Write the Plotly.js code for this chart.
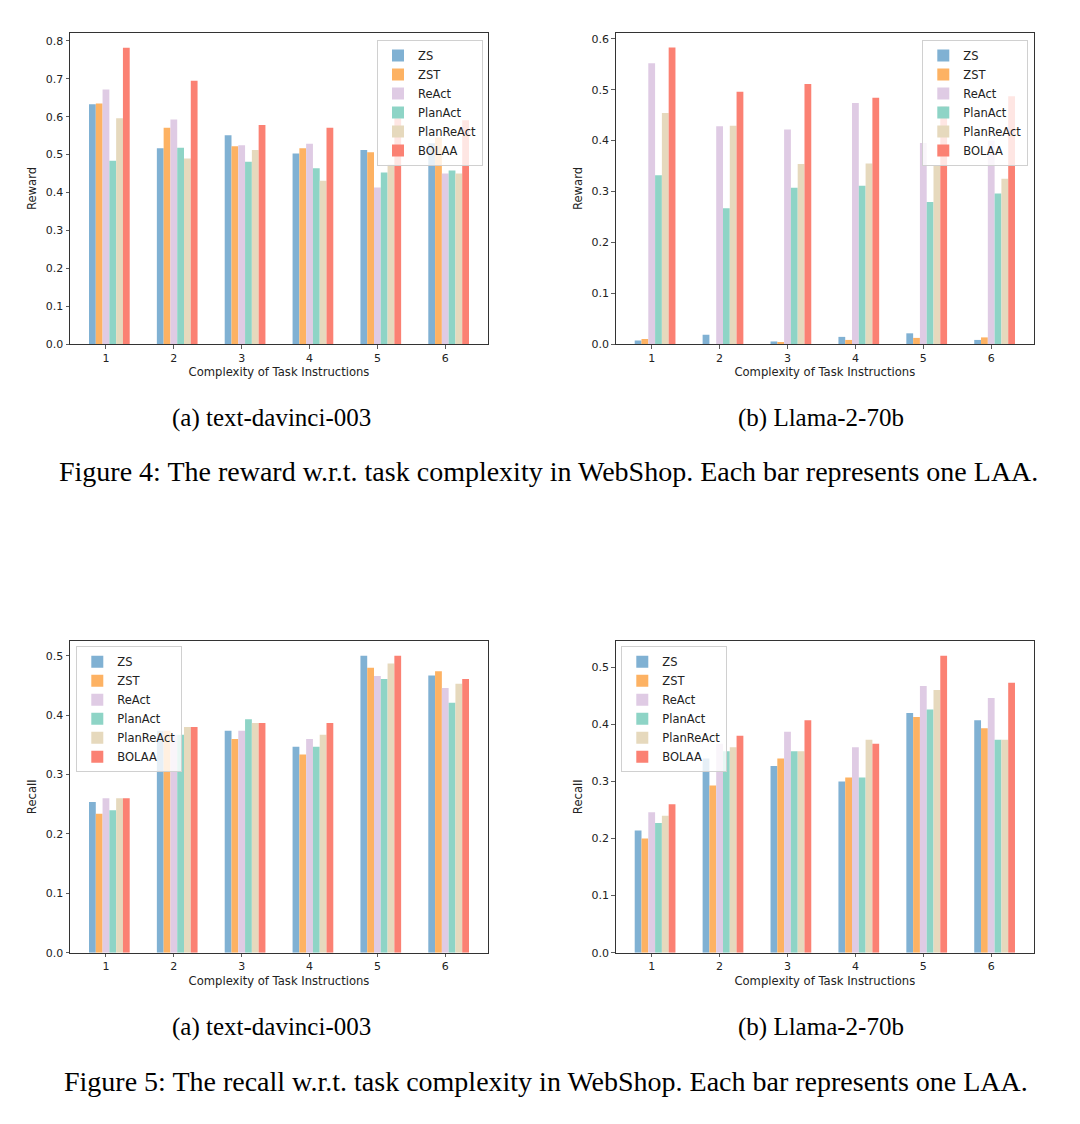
<!DOCTYPE html>
<html>
<head>
<meta charset="utf-8">
<script src="https://cdn.plot.ly/plotly-3.0.1.min.js"></script>
<style>
  html, body { margin: 0; padding: 0; background: #ffffff; }
  #chart { width: 1080px; height: 1124px; }
</style>
</head>
<body>
<div id="chart"></div>
<script>
// ---------- data ----------
const complexity = [1, 2, 3, 4, 5, 6];
const agents = ['ZS', 'ZST', 'ReAct', 'PlanAct', 'PlanReAct', 'BOLAA'];
const agentColors = ['#80b1d3', '#fdb263', '#dfcbe4', '#8ed4c6', '#e6d9bd', '#fb8173'];

// Figure 4 (a): reward, text-davinci-003
const rewardDavinciZS        = [0.633, 0.517, 0.551, 0.503, 0.512, 0.530];
const rewardDavinciZST       = [0.635, 0.571, 0.522, 0.517, 0.506, 0.545];
const rewardDavinciReAct     = [0.672, 0.593, 0.525, 0.529, 0.413, 0.450];
const rewardDavinciPlanAct   = [0.484, 0.518, 0.481, 0.464, 0.453, 0.458];
const rewardDavinciPlanReAct = [0.596, 0.490, 0.512, 0.431, 0.474, 0.450];
const rewardDavinciBOLAA     = [0.782, 0.695, 0.578, 0.571, 0.596, 0.591];

// Figure 4 (b): reward, Llama-2-70b
const rewardLlamaZS        = [0.007, 0.018, 0.005, 0.014, 0.021, 0.008];
const rewardLlamaZST       = [0.010, 0.000, 0.004, 0.008, 0.012, 0.013];
const rewardLlamaReAct     = [0.552, 0.428, 0.422, 0.474, 0.395, 0.400];
const rewardLlamaPlanAct   = [0.332, 0.267, 0.307, 0.311, 0.279, 0.296];
const rewardLlamaPlanReAct = [0.454, 0.429, 0.354, 0.355, 0.350, 0.325];
const rewardLlamaBOLAA     = [0.583, 0.496, 0.511, 0.484, 0.467, 0.487];

// Figure 5 (a): recall, text-davinci-003
const recallDavinciZS        = [0.254, 0.374, 0.374, 0.347, 0.500, 0.467];
const recallDavinciZST       = [0.234, 0.374, 0.360, 0.334, 0.480, 0.474];
const recallDavinciReAct     = [0.260, 0.367, 0.374, 0.360, 0.466, 0.446];
const recallDavinciPlanAct   = [0.240, 0.367, 0.393, 0.347, 0.461, 0.421];
const recallDavinciPlanReAct = [0.260, 0.380, 0.387, 0.367, 0.487, 0.453];
const recallDavinciBOLAA     = [0.260, 0.380, 0.387, 0.387, 0.500, 0.461];

// Figure 5 (b): recall, Llama-2-70b
const recallLlamaZS        = [0.214, 0.340, 0.327, 0.300, 0.420, 0.407];
const recallLlamaZST       = [0.200, 0.293, 0.340, 0.307, 0.413, 0.393];
const recallLlamaReAct     = [0.246, 0.366, 0.387, 0.360, 0.467, 0.446];
const recallLlamaPlanAct   = [0.227, 0.353, 0.353, 0.307, 0.426, 0.373];
const recallLlamaPlanReAct = [0.240, 0.360, 0.353, 0.373, 0.460, 0.373];
const recallLlamaBOLAA     = [0.260, 0.380, 0.407, 0.366, 0.520, 0.473];

const xTickLabels = ['1', '2', '3', '4', '5', '6'];
const xTitle = 'Complexity of Task Instructions';
const subCaptions = ['(a) text-davinci-003', '(b) Llama-2-70b'];
const fig4Caption = 'Figure 4: The reward w.r.t. task complexity in WebShop. Each bar represents one LAA.';
const fig5Caption = 'Figure 5: The recall w.r.t. task complexity in WebShop. Each bar represents one LAA.';

// ---------- build ----------
const panels = [
  { ax: '', legend: 'legend',  series: [rewardDavinciZS, rewardDavinciZST, rewardDavinciReAct, rewardDavinciPlanAct, rewardDavinciPlanReAct, rewardDavinciBOLAA] },
  { ax: '2', legend: 'legend2', series: [rewardLlamaZS, rewardLlamaZST, rewardLlamaReAct, rewardLlamaPlanAct, rewardLlamaPlanReAct, rewardLlamaBOLAA] },
  { ax: '3', legend: 'legend3', series: [recallDavinciZS, recallDavinciZST, recallDavinciReAct, recallDavinciPlanAct, recallDavinciPlanReAct, recallDavinciBOLAA] },
  { ax: '4', legend: 'legend4', series: [recallLlamaZS, recallLlamaZST, recallLlamaReAct, recallLlamaPlanAct, recallLlamaPlanReAct, recallLlamaBOLAA] }
];

const barWidth = 0.1;
const traces = [];
panels.forEach(p => {
  p.series.forEach((vals, i) => {
    traces.push({
      type: 'bar',
      name: agents[i],
      x: complexity,
      y: vals,
      width: barWidth,
      offset: -0.25 + i * barWidth,
      marker: { color: agentColors[i], line: { width: 0 } },
      xaxis: 'x' + p.ax,
      yaxis: 'y' + p.ax,
      legend: p.legend,
      hoverinfo: 'x+y+name'
    });
  });
});

const W = 1080, H = 1124;
const px = v => v / W;
const py = v => 1 - v / H;

const tickFont = { family: 'DejaVu Sans, sans-serif', size: 11, color: '#222222' };
const titleFont = { family: 'DejaVu Sans, sans-serif', size: 11.6, color: '#222222' };
const lineColor = '#333333';

function xAxis(x0, x1, anchor) {
  return {
    domain: [px(x0), px(x1)],
    anchor: anchor,
    range: [0.47, 6.63],
    tickmode: 'array',
    tickvals: complexity,
    ticktext: xTickLabels,
    ticks: 'outside', ticklen: 3.5, tickwidth: 0.8, tickcolor: lineColor,
    showline: true, linecolor: lineColor, linewidth: 1, mirror: true,
    showgrid: false, zeroline: false,
    tickfont: tickFont,
    title: { text: xTitle, font: titleFont, standoff: 4 },
    fixedrange: true
  };
}
function yAxis(y0, y1, anchor, maxv, title) {
  return {
    domain: [py(y1), py(y0)],
    anchor: anchor,
    range: [0, maxv],
    tick0: 0, dtick: 0.1, tickformat: '.1f',
    ticks: 'outside', ticklen: 3.5, tickwidth: 0.8, tickcolor: lineColor,
    showline: true, linecolor: lineColor, linewidth: 1, mirror: true,
    showgrid: false, zeroline: false,
    tickfont: tickFont,
    title: { text: title, font: titleFont, standoff: 6 },
    fixedrange: true
  };
}

const legendFont = { family: 'DejaVu Sans, sans-serif', size: 11.5, color: '#222222' };
function legendAt(x, y, xanchor) {
  return {
    x: x, y: y, xref: 'paper', yref: 'paper', xanchor: xanchor, yanchor: 'top',
    bgcolor: 'rgba(255,255,255,0.8)', bordercolor: '#d0d0d0', borderwidth: 1,
    font: legendFont, traceorder: 'normal', itemclick: false, itemdoubleclick: false
  };
}

const capFontSub = { family: 'Liberation Serif, Times New Roman, serif', size: 25, color: '#000000' };
const capFontMain = { family: 'Liberation Serif, Times New Roman, serif', size: 28, color: '#000000' };
function ann(text, cx, cy, font) {
  return { text: text, x: px(cx), y: py(cy), xref: 'paper', yref: 'paper',
           xanchor: 'center', yanchor: 'middle', showarrow: false, font: font };
}

const layout = {
  width: W, height: H,
  margin: { l: 0, r: 0, t: 0, b: 0 },
  paper_bgcolor: '#ffffff', plot_bgcolor: '#ffffff',
  barmode: 'overlay',
  showlegend: true,
  xaxis:  xAxis(70, 488, 'y'),
  yaxis:  yAxis(33, 344, 'x', 0.8211, 'Reward'),
  xaxis2: xAxis(615.7, 1034, 'y2'),
  yaxis2: yAxis(33, 344, 'x2', 0.6115, 'Reward'),
  xaxis3: xAxis(70, 488, 'y3'),
  yaxis3: yAxis(641, 952.7, 'x3', 0.525, 'Recall'),
  xaxis4: xAxis(615.7, 1034, 'y4'),
  yaxis4: yAxis(641, 952.7, 'x4', 0.546, 'Recall'),
  legend:  legendAt(px(483), py(40), 'right'),
  legend2: legendAt(px(1028.3), py(40), 'right'),
  legend3: legendAt(px(76.3), py(646.3), 'left'),
  legend4: legendAt(px(621.3), py(646.3), 'left'),
  annotations: [
    ann(subCaptions[0], 271, 418, capFontSub),
    ann(subCaptions[1], 821, 418, capFontSub),
    ann(fig4Caption, 548, 471, capFontMain),
    ann(subCaptions[0], 271, 1027, capFontSub),
    ann(subCaptions[1], 821, 1027, capFontSub),
    ann(fig5Caption, 546, 1081, capFontMain)
  ]
};

Plotly.newPlot('chart', traces, layout, { staticPlot: true, displayModeBar: false });
</script>
</body>
</html>
